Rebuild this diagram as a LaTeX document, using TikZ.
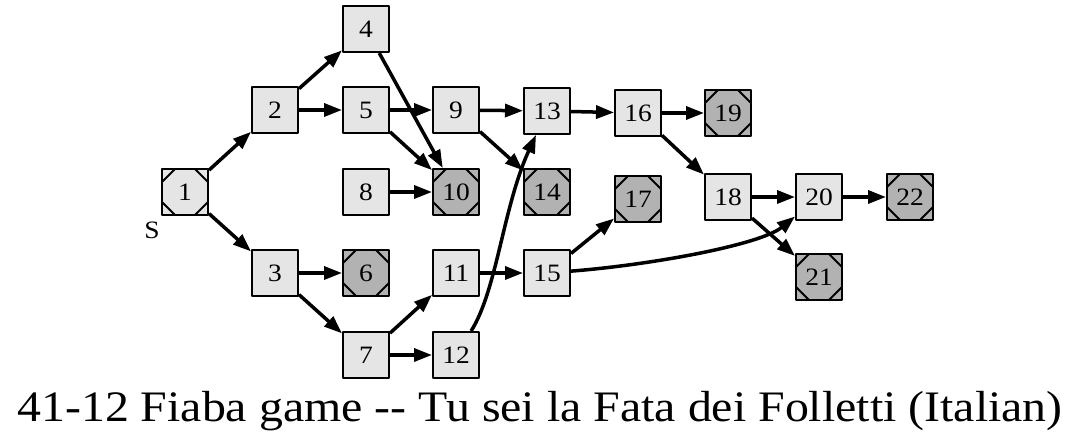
\documentclass[tikz,border=0pt]{standalone}
\usepackage{fontspec}
\newfontfamily\dotfont[FakeStretch=1.1,Ligatures=TeXOff]{Liberation Serif}
\usetikzlibrary{arrows.meta}
\definecolor{lightfill}{rgb}{0.9,0.9,0.9}
\definecolor{darkfill}{rgb}{0.7,0.7,0.7}
\tikzset{
  gbox/.style={draw=black, line width=2bp, minimum size=46bp, inner sep=0pt,
    fill=lightfill, font=\dotfont\fontsize{25bp}{28bp}\selectfont},
  mbox/.style={gbox, path picture={
    \draw[line width=2bp] ([yshift=-13bp]path picture bounding box.north west) -- ([xshift=13bp]path picture bounding box.north west);
    \draw[line width=2bp] ([yshift=-13bp]path picture bounding box.north east) -- ([xshift=-13bp]path picture bounding box.north east);
    \draw[line width=2bp] ([yshift=13bp]path picture bounding box.south west) -- ([xshift=13bp]path picture bounding box.south west);
    \draw[line width=2bp] ([yshift=13bp]path picture bounding box.south east) -- ([xshift=-13bp]path picture bounding box.south east);
  }},
  endbox/.style={mbox, fill=darkfill},
  gedge/.style={line width=3.5bp, -{Triangle[length=18bp,width=13bp]}},
}

\begin{document}
\begin{tikzpicture}[line join=bevel]
\useasboundingbox (0bp,0bp) rectangle (1080bp,443bp);
%%
  % Node: 1
  \node[mbox] (n1) at (185bp,251bp) {1};
  \node[font=\dotfont\fontsize{25bp}{28bp}\selectfont] (start) at (152bp,213bp) {S};
  % Node: 2
  \node[gbox] (n2) at (275bp,333bp) {2};
  % Node: 3
  \node[gbox] (n3) at (275bp,170bp) {3};
  % Node: 4
  \node[gbox] (n4) at (366bp,414bp) {4};
  % Node: 5
  \node[gbox] (n5) at (366bp,333bp) {5};
  % Node: 6
  \node[endbox] (n6) at (366bp,170bp) {6};
  % Node: 7
  \node[gbox] (n7) at (366bp,88bp) {7};
  % Node: 8
  \node[gbox] (n8) at (366bp,251bp) {8};
  % Node: 9
  \node[gbox] (n9) at (456bp,333bp) {9};
  % Node: 10
  \node[endbox] (n10) at (456bp,251bp) {10};
  % Node: 11
  \node[gbox] (n11) at (456bp,170bp) {11};
  % Node: 12
  \node[gbox] (n12) at (456bp,88bp) {12};
  % Node: 13
  \node[gbox] (n13) at (547bp,332bp) {13};
  % Node: 14
  \node[endbox] (n14) at (547bp,251bp) {14};
  % Node: 15
  \node[gbox] (n15) at (547bp,170bp) {15};
  % Node: 16
  \node[gbox] (n16) at (638bp,330bp) {16};
  % Node: 17
  \node[endbox] (n17) at (638bp,244bp) {17};
  % Node: 18
  \node[gbox] (n18) at (728bp,246bp) {18};
  % Node: 19
  \node[endbox] (n19) at (728bp,330bp) {19};
  % Node: 20
  \node[gbox] (n20) at (819bp,246bp) {20};
  % Node: 21
  \node[endbox] (n21) at (819bp,166bp) {21};
  % Node: 22
  \node[endbox] (n22) at (910bp,246bp) {22};
%%
  % Edge: 1 -> 2
  \draw [gedge] (n1) -- (n2);
  % Edge: 1 -> 3
  \draw [gedge] (n1) -- (n3);
  % Edge: 2 -> 4
  \draw [gedge] (n2) -- (n4);
  % Edge: 2 -> 5
  \draw [gedge] (n2) -- (n5);
  % Edge: 3 -> 6
  \draw [gedge] (n3) -- (n6);
  % Edge: 3 -> 7
  \draw [gedge] (n3) -- (n7);
  % Edge: 4 -> 10
  \draw [gedge] (n4) -- (n10);
  % Edge: 5 -> 9
  \draw [gedge] (n5) -- (n9);
  % Edge: 5 -> 10
  \draw [gedge] (n5) -- (n10);
  % Edge: 8 -> 10
  \draw [gedge] (n8) -- (n10);
  % Edge: 7 -> 11
  \draw [gedge] (n7) -- (n11);
  % Edge: 7 -> 12
  \draw [gedge] (n7) -- (n12);
  % Edge: 9 -> 13
  \draw [gedge] (n9) -- (n13);
  % Edge: 9 -> 14
  \draw [gedge] (n9) -- (n14);
  % Edge: 12 -> 13
  \draw [gedge] (n12) .. controls (497bp,153bp) and (503bp,236bp) .. (n13);
  % Edge: 11 -> 15
  \draw [gedge] (n11) -- (n15);
  % Edge: 13 -> 16
  \draw [gedge] (n13) -- (n16);
  % Edge: 15 -> 17
  \draw [gedge] (n15) -- (n17);
  % Edge: 15 -> 20
  \draw [gedge] (n15) .. controls (650bp,178bp) and (760bp,198bp) .. (n20);
  % Edge: 16 -> 19
  \draw [gedge] (n16) -- (n19);
  % Edge: 16 -> 18
  \draw [gedge] (n16) -- (n18);
  % Edge: 18 -> 20
  \draw [gedge] (n18) -- (n20);
  % Edge: 18 -> 21
  \draw [gedge] (n18) -- (n21);
  % Edge: 20 -> 22
  \draw [gedge] (n20) -- (n22);
%%
  \node[font=\dotfont\fontsize{43.5bp}{48bp}\selectfont, anchor=base] (title) at (540bp,22bp)
    {41-12 Fiaba game -- Tu sei la Fata dei Folletti (Italian)};
%
\end{tikzpicture}
\end{document}
